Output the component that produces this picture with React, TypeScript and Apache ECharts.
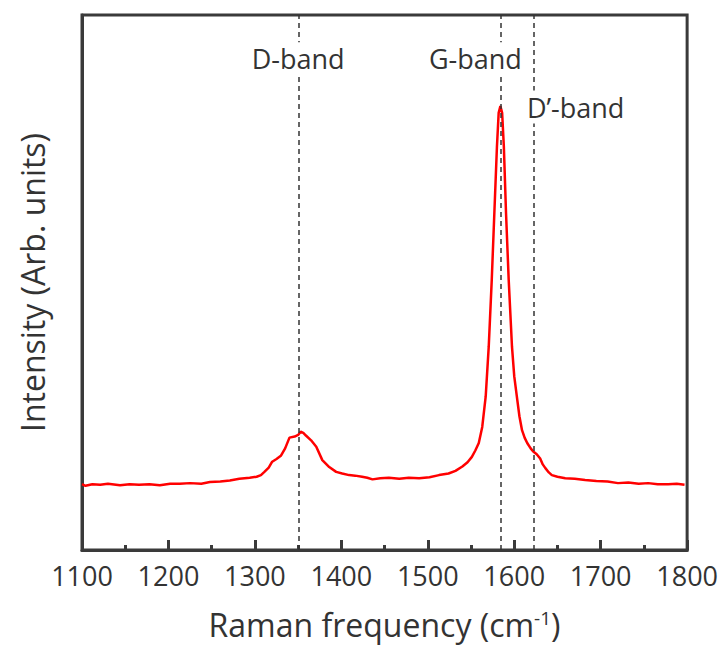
import React, { useEffect, useRef } from "react";
import * as echarts from "echarts";

// Raman shift (cm^-1)
const shift: number[] = [
  1100, 1104, 1112, 1121, 1130, 1144, 1155, 1166, 1178, 1190, 1202, 1213, 1225, 1238, 1248, 1260, 1271, 1282, 1294, 1302, 1307,
  1311, 1316, 1320, 1325, 1330, 1335, 1340, 1346, 1350, 1353, 1356, 1359, 1365, 1371, 1378, 1386, 1394, 1401, 1409, 1416, 1424,
  1430, 1436, 1445, 1455, 1467, 1478, 1490, 1502, 1513, 1524, 1532, 1540, 1546, 1551, 1555, 1559, 1563, 1567, 1570.5, 1574, 1577,
  1580, 1582, 1584, 1586, 1588, 1590.5, 1593.6, 1597.4, 1600, 1603, 1606, 1609, 1612, 1615, 1619, 1622, 1626, 1630, 1633, 1636,
  1640, 1643.5, 1650, 1659, 1670, 1682, 1695, 1708, 1720, 1732, 1744, 1755, 1766, 1778, 1788, 1797,
];

// Intensity (arb. units)
const intensity: number[] = [
  12.3, 12.0, 12.3, 12.2, 12.4, 12.1, 12.3, 12.2, 12.3, 12.1, 12.4, 12.4, 12.5, 12.4, 12.7, 12.8, 13.0, 13.3, 13.5, 13.7, 14.0,
  14.6, 15.4, 16.5, 17.0, 17.6, 19.0, 21.0, 21.2, 21.5, 22.1, 21.9, 21.4, 20.5, 19.3, 16.8, 15.5, 14.6, 14.3, 14.0, 13.9, 13.7,
  13.5, 13.2, 13.4, 13.5, 13.3, 13.5, 13.4, 13.6, 14.0, 14.3, 14.8, 15.6, 16.4, 17.4, 18.6, 20.0, 23.0, 28.7, 38.0, 50.5, 63.0,
  75.4, 81.7, 83.0, 81.7, 75.4, 63.0, 50.5, 38.0, 32.5, 28.7, 25.0, 22.4, 21.0, 20.0, 19.0, 18.4, 17.9, 17.1, 16.0, 15.3,
  14.5, 14.0, 13.7, 13.4, 13.3, 13.1, 12.9, 12.8, 12.5, 12.6, 12.4, 12.5, 12.3, 12.3, 12.4, 12.2,
];

// Band positions (cm^-1)
const bandPositions: number[] = [1351, 1584, 1623];

// Band labels: name, x (cm^-1), y (arb. units)
const bandLabels: string[] = ["D-band", "G-band", "D\u2019-band"];
const bandLabelX: number[] = [1350, 1555, 1671];
const bandLabelY: number[] = [91.8, 91.8, 82.8];

const xTicks = { min: 1100, max: 1800, interval: 100 };

const FONT = "'Open Sans', 'Noto Sans', sans-serif";
const DARK = "#3a3a3a";
const TEXT = "#333333";

export default function App() {
  const ref = useRef<HTMLDivElement>(null);
  useEffect(() => {
    if (!ref.current) return;
    const chart = echarts.init(ref.current, null, { renderer: "svg" });
    const lineData = shift.map((s, i) => [s, intensity[i]]);
    chart.setOption({
      animation: false,
      textStyle: { fontFamily: FONT },
      grid: {
        left: 82,
        right: 32,
        top: 15,
        bottom: 96,
        show: true,
        borderColor: DARK,
        borderWidth: 3,
      },
      xAxis: {
        type: "value",
        min: xTicks.min,
        max: xTicks.max,
        interval: xTicks.interval,
        axisLine: { show: true, lineStyle: { color: DARK, width: 3 } },
        axisTick: { show: true, inside: true, length: 10, lineStyle: { color: DARK, width: 3 } },
        minorTick: { show: true, splitNumber: 2, length: 5, lineStyle: { color: DARK, width: 3 } },
        splitLine: { show: false },
        axisLabel: {
          color: TEXT,
          fontSize: 27,
          fontFamily: FONT,
          margin: 12,
          formatter: (v: number) => String(v),
        },
        name: "Raman frequency (cm{sup|-1})",
        nameLocation: "middle",
        nameGap: 58,
        nameTextStyle: {
          color: TEXT,
          fontSize: 32,
          fontFamily: FONT,
          rich: {
            sup: { fontSize: 19, color: TEXT, fontFamily: FONT, verticalAlign: "top", lineHeight: 30 },
          },
        },
      },
      yAxis: {
        type: "value",
        min: 0,
        max: 100,
        axisLine: { show: true, lineStyle: { color: DARK, width: 3 } },
        axisTick: { show: false },
        axisLabel: { show: false },
        splitLine: { show: false },
        name: "Intensity (Arb. units)",
        nameLocation: "middle",
        nameGap: 34,
        nameTextStyle: { color: TEXT, fontSize: 32, fontFamily: FONT },
      },
      series: [
        {
          type: "line",
          data: lineData,
          showSymbol: false,
          symbol: "none",
          lineStyle: { color: "#ff0000", width: 2.5 },
          z: 2,
          markLine: {
            silent: true,
            symbol: "none",
            label: { show: false },
            lineStyle: { color: "#333333", width: 1.5, type: [5, 4] },
            data: bandPositions.map((b) => ({ xAxis: b })),
          },
        },
        {
          type: "scatter",
          symbolSize: 1,
          itemStyle: { color: "rgba(255,255,255,0)", opacity: 1 },
          z: 10,
          data: bandLabels.map((n, i) => ({ name: n, value: [bandLabelX[i], bandLabelY[i]] })),
          label: {
            show: true,
            position: "inside",
            formatter: "{b}",
            color: TEXT,
            opacity: 1,
            fontSize: 27,
            fontFamily: FONT,
            backgroundColor: "#ffffff",
            padding: [3, 2],
          },
        },
      ],
    });
    return () => chart.dispose();
  }, []);
  return (
    <div
      ref={ref}
      style={{ position: "fixed", left: 0, top: 0, width: 721, height: 646, background: "#fff" }}
    />
  );
}
